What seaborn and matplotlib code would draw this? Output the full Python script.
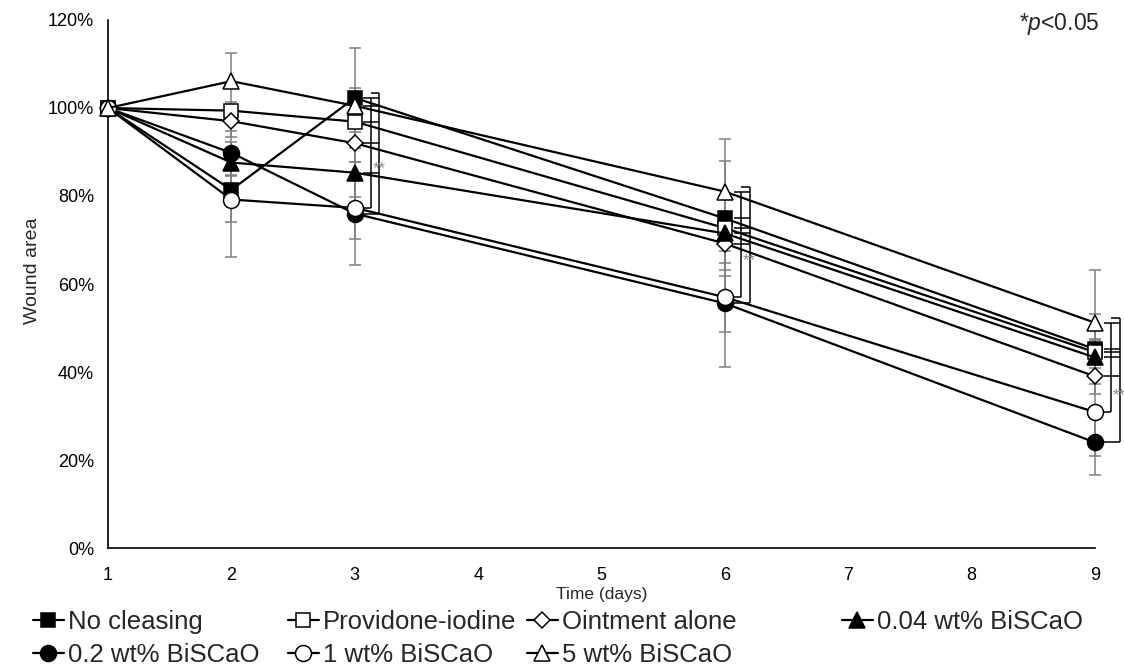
import numpy as np
import pandas as pd
import seaborn as sns
import matplotlib.pyplot as plt
from matplotlib.ticker import FuncFormatter

# wound area (% of day 1)
days = [1, 2, 3, 6, 9]
groups = ["No cleasing", "Providone-iodine", "Ointment alone", "0.04 wt% BiSCaO",
          "0.2 wt% BiSCaO", "1 wt% BiSCaO", "5 wt% BiSCaO"]
no_cleasing = [100, 81.4, 102.3, 74.9, 45.2]
providone = [100, 99.4, 96.9, 72.7, 44.5]
ointment = [100, 97.0, 92.0, 69.2, 39.0]
biscao_004 = [100, 87.6, 85.3, 71.5, 43.3]
biscao_02 = [100, 89.8, 76.0, 55.6, 24.0]
biscao_1 = [100, 79.2, 77.3, 57.0, 30.9]
biscao_5 = [100, 106.1, 100.5, 81.0, 51.2]

# standard deviations (error bars)
sd_no_cleasing = [0, 7.2, 11.3, 13.0, 8.0]
sd_providone = [0, 2.0, 2.3, 3.0, 3.0]
sd_ointment = [0, 3.5, 4.2, 6.0, 4.0]
sd_004 = [0, 3.0, 5.5, 4.0, 4.0]
sd_02 = [0, 5.0, 11.7, 14.4, 7.4]
sd_1 = [0, 13.0, 7.0, 7.8, 10.0]
sd_5 = [0, 6.3, 4.0, 12.0, 12.0]

means = [no_cleasing, providone, ointment, biscao_004, biscao_02, biscao_1, biscao_5]
sds = [sd_no_cleasing, sd_providone, sd_ointment, sd_004, sd_02, sd_1, sd_5]
markers = ["s", "s", "D", "^", "o", "o", "^"]
faces = ["black", "white", "white", "black", "black", "white", "white"]
sizes = [10.5, 10.5, 8, 11.5, 11.5, 11.5, 11.5]

df = pd.DataFrame({
    "day": days * len(groups),
    "area": sum(means, []),
    "sd": sum(sds, []),
    "group": np.repeat(groups, len(days)),
})

sns.set_style("white")
plt.rcParams["font.family"] = ["Liberation Sans", "DejaVu Sans"]
plt.rcParams["mathtext.fontset"] = "custom"
plt.rcParams["mathtext.rm"] = "Liberation Sans"
plt.rcParams["mathtext.it"] = "Liberation Sans:italic"

fig = plt.figure(figsize=(11.24, 6.71), dpi=100)
ax = fig.add_axes([0.0961, 0.1833, 0.8781, 0.7869])

for g, m, fc, ms in zip(groups, markers, faces, sizes):
    sub = df[df["group"] == g]
    ax.errorbar(sub["day"], sub["area"], yerr=sub["sd"], fmt="none", ecolor="#7f7f7f",
                elinewidth=1.1, capsize=4.5, capthick=1.1, zorder=1.5, clip_on=False)
    sns.lineplot(data=sub, x="day", y="area", ax=ax, color="black", linewidth=1.6,
                 marker=m, markersize=ms, markerfacecolor=fc, markeredgecolor="black",
                 markeredgewidth=1.1, label=g, legend=False, zorder=3, clip_on=False)

# significance brackets at days 3, 6 and 9
top_groups = [no_cleasing, providone, ointment, biscao_004, biscao_5]
for i in [2, 3, 4]:
    d = days[i]
    tops = [t[i] for t in top_groups]
    xi, xo, stub = d + 0.13, d + 0.2, 0.06
    kw = dict(color="black", linewidth=1.1, clip_on=False, zorder=2.5)
    ax.vlines(xi, biscao_1[i], max(tops), **kw)
    ax.hlines(tops + [biscao_1[i]], xi - stub, xi, **kw)
    ax.vlines(xo, biscao_02[i], max(tops) + 1, **kw)
    ax.hlines(tops, xi, xo, **kw)
    ax.hlines([max(tops) + 1], xi, xo, **kw)
    ax.hlines([biscao_02[i]], d + 0.07, xo, **kw)
    ax.text(xo, (max(tops) + biscao_02[i]) / 2 - 3, "**", color="#8c8c8c",
            fontsize=12, ha="center", va="center", clip_on=False)

ax.set_xlim(1, 9)
ax.set_ylim(0, 120)
ax.set_xticks(range(1, 10))
ax.set_yticks(range(0, 121, 20))
ax.yaxis.set_major_formatter(FuncFormatter(lambda v, p: f"{v:.0f}%"))
ax.tick_params(axis="both", direction="in", length=4, width=1.1, colors="black",
               labelsize=13, pad=10)
ax.tick_params(axis="x", pad=13.5)
for s in ["top", "right"]:
    ax.spines[s].set_visible(False)
for s in ["left", "bottom"]:
    ax.spines[s].set_color("black")
    ax.spines[s].set_linewidth(1.2)

ax.set_xlabel("Time (days)", fontsize=12.5, labelpad=2)
ax.set_ylabel("Wound area", fontsize=14)
ax.yaxis.set_label_coords(-0.068, 0.525)

fig.text(0.978, 1 - 24 / 671, r"*$p$<0.05", fontsize=16.5, ha="right", va="center")

# legend laid out row-wise in four columns
handles, labels = ax.get_legend_handles_labels()
col_x = [33, 288, 527, 842]
cols = [[0, 4], [1, 5], [2, 6], [3]]
for cx, idx in zip(col_x, cols):
    fig.legend([handles[j] for j in idx], [labels[j] for j in idx],
               loc="upper left", bbox_to_anchor=(cx / 1124, 1 - 610 / 671),
               frameon=False, fontsize=18.5, handlelength=1.2, handletextpad=0.15,
               labelspacing=0.36, borderpad=0, borderaxespad=0)

fig.savefig("out.png", dpi=100)
